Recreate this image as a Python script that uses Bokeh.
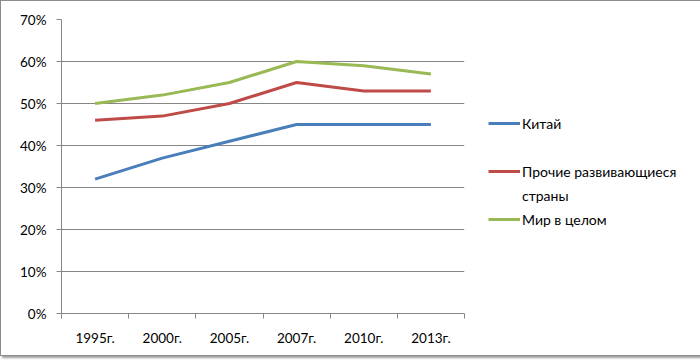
from bokeh.plotting import figure
from bokeh.models import (FixedTicker, NumeralTickFormatter, Legend, LegendItem,
                          ColumnDataSource, Range1d)
from bokeh.embed import file_html
from bokeh.resources import INLINE

years = ["1995г.", "2000г.", "2005г.", "2007г.", "2010г.", "2013г."]
china = [0.32, 0.37, 0.41, 0.45, 0.45, 0.45]
other = [0.46, 0.47, 0.50, 0.55, 0.53, 0.53]
world = [0.50, 0.52, 0.55, 0.60, 0.59, 0.57]
y_ticks = [0.0, 0.1, 0.2, 0.3, 0.4, 0.5, 0.6, 0.7]

FONT = "Lato"
FS = "13.5px"
GRID = "#868686"

xs = [i + 0.5 for i in range(len(years))]
src = ColumnDataSource(dict(x=xs, china=china, other=other, world=world))

p = figure(frame_width=403, frame_height=294,
           min_border_left=60, min_border_right=227,
           min_border_top=18, min_border_bottom=42,
           x_range=Range1d(0, len(years)), y_range=Range1d(0, 0.7),
           output_backend="svg", toolbar_location=None)
p.styles = {"border": "1px solid #8c8c8c", "box-shadow": "2px 2px 2px #a0a0a0"}
p.outline_line_color = None
p.background_fill_color = "white"
p.border_fill_color = "white"

# x axis
p.xaxis.ticker = FixedTicker(ticks=xs, minor_ticks=list(range(len(years) + 1)))
p.xaxis.major_label_overrides = {x: y for x, y in zip(xs, years)}
p.xaxis.major_tick_out = 0
p.xaxis.major_tick_in = 0
p.xaxis.minor_tick_out = 5
p.xaxis.minor_tick_in = 0
p.xaxis.minor_tick_line_color = GRID
p.xaxis.axis_line_color = GRID
p.xaxis.major_label_standoff = 11
p.xgrid.grid_line_color = None

# y axis
p.yaxis.ticker = FixedTicker(ticks=y_ticks)
p.yaxis.formatter = NumeralTickFormatter(format="0%")
p.yaxis.major_tick_out = 5
p.yaxis.major_tick_in = 0
p.yaxis.minor_tick_line_color = None
p.yaxis.major_tick_line_color = GRID
p.yaxis.axis_line_color = GRID
p.yaxis.major_label_standoff = 10
p.ygrid.grid_line_color = GRID
p.ygrid.grid_line_width = 1

for ax in (p.xaxis, p.yaxis):
    ax.major_label_text_font = FONT
    ax.major_label_text_font_size = FS
    ax.major_label_text_color = "black"

r1 = p.line("x", "china", source=src, line_color="#4A7EBB", line_width=3)
r2 = p.line("x", "other", source=src, line_color="#BE4B48", line_width=3)
r3 = p.line("x", "world", source=src, line_color="#98B954", line_width=3)
blank = p.line(x=[], y=[], line_alpha=0)

legend = Legend(items=[
    LegendItem(label="Китай", renderers=[r1]),
    LegendItem(label=" ", renderers=[blank]),
    LegendItem(label="Прочие развивающиеся", renderers=[r2]),
    LegendItem(label="страны", renderers=[blank]),
    LegendItem(label="Мир в целом", renderers=[r3]),
], location=(24, 82))
legend.padding = 0
legend.margin = 0
legend.spacing = 0
legend.label_height = 24
legend.glyph_height = 24
legend.glyph_width = 32
legend.label_standoff = 2
legend.border_line_color = None
legend.background_fill_alpha = 0
legend.label_text_font = FONT
legend.label_text_font_size = "14px"
legend.label_text_color = "black"
p.add_layout(legend, "right")

open("out.html", "w").write(file_html(p, INLINE))
